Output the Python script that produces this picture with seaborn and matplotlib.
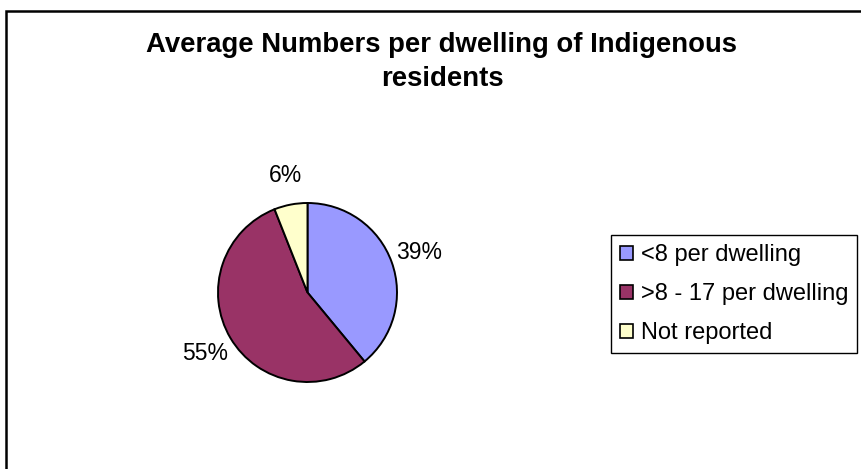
import matplotlib
matplotlib.use("Agg")
import matplotlib.pyplot as plt
import seaborn as sns
from matplotlib.patches import Rectangle

# data
categories = ['<8 per dwelling', '>8 - 17 per dwelling', 'Not reported']
shares = [39, 55, 6]
colors = ['#9999FF', '#993366', '#FFFFCC']
title = "Average Numbers per dwelling of Indigenous\nresidents"

sns.set_style("white")
plt.rcParams['font.family'] = ['Liberation Sans', 'DejaVu Sans']
plt.rcParams['text.color'] = 'black'

W, H = 861, 469
fig = plt.figure(figsize=(W / 100, H / 100), dpi=100)

# chart area border (cut at right and bottom edges, like the reference)
fig.patches.append(Rectangle((6 / W, -0.1), 1.2, 1.1 - 11 / H, transform=fig.transFigure,
                             fill=False, edgecolor='black', linewidth=1.8))

# square axes of 300x300 px centred on the pie
cx, cy, s = 307.5, 292.5, 300
ax = fig.add_axes([(cx - s / 2) / W, 1 - (cy + s / 2) / H, s / W, s / H])
wedges, texts, autotexts = ax.pie(
    shares, colors=colors, startangle=90, counterclock=False, radius=89.5,
    autopct='%d%%', pctdistance=1.33,
    wedgeprops={'edgecolor': 'black', 'linewidth': 1.4},
    textprops={'fontsize': 16.5, 'color': 'black'})
ax.set_xlim(-s / 2, s / 2)
ax.set_ylim(-s / 2, s / 2)
ax.set_aspect('equal')
ax.axis('off')

fig.text(442 / W, 1 - 61.5 / H, title, ha='center', va='center', fontsize=19.8,
         fontweight='bold', linespacing=1.4, color='black')

handles = [Rectangle((0, 0), 1, 1, facecolor=c, edgecolor='black', linewidth=1.2) for c in colors]
leg = fig.legend(handles, categories, loc='center left',
                 bbox_to_anchor=(611 / W, 1 - 294 / H), frameon=True, fancybox=False,
                 edgecolor='black', framealpha=1, fontsize=17, handlelength=0.55,
                 handleheight=0.55, handletextpad=0.3, labelspacing=0.72,
                 borderpad=0.4, borderaxespad=0)
leg.get_frame().set_linewidth(1.0)

fig.savefig('out.png', dpi=100)
